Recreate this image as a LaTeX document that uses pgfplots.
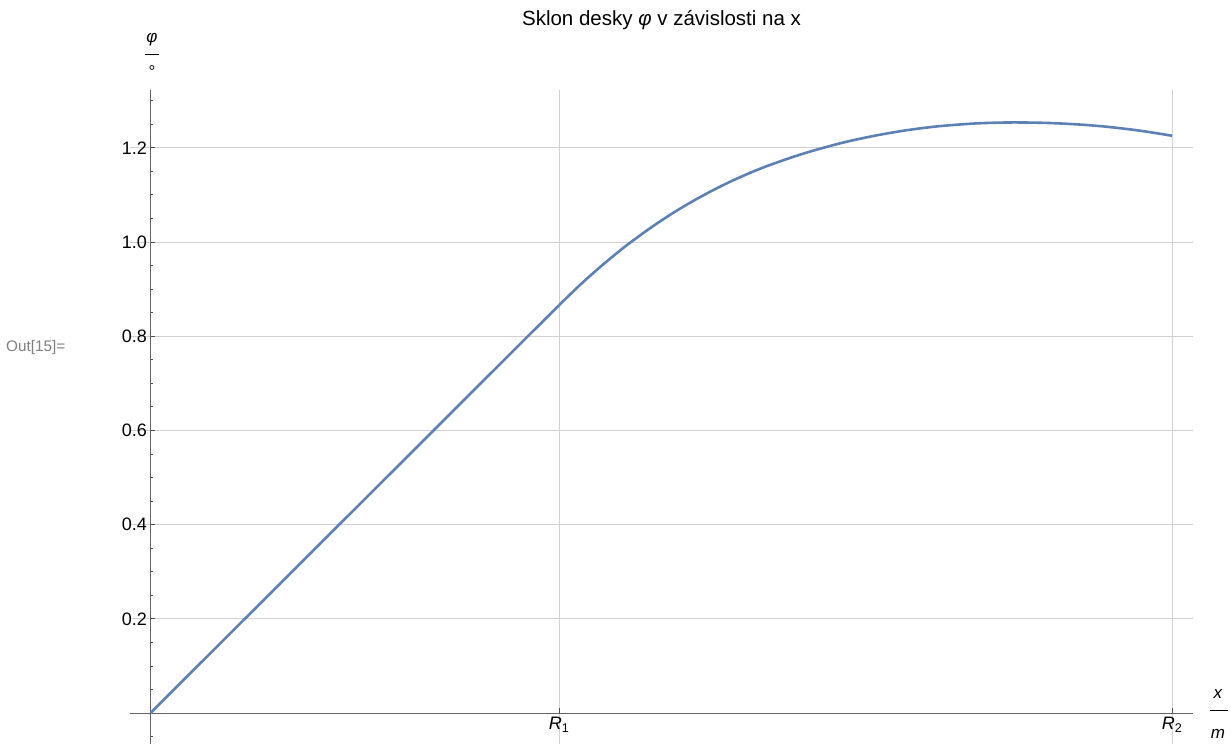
\documentclass[border=0pt]{standalone}
\usepackage{pgfplots}
\pgfplotsset{compat=1.18}
\usepackage{fontspec}
\setmainfont{Liberation Sans}
\definecolor{curve}{RGB}{94,129,181}
\definecolor{gridc}{RGB}{208,208,208}
\definecolor{axc}{RGB}{100,100,100}
\begin{document}
\begin{tikzpicture}[x=1pt,y=1pt]
\useasboundingbox (0,0) rectangle (1231,744);
\begin{axis}[
  at={(130pt,0pt)}, anchor=south west,
  scale only axis, width=1063pt, height=654pt,
  xmin=-0.01003, xmax=0.5103,
  ymin=-0.0658, ymax=1.3227,
  axis lines=middle,
  axis line style={-, draw=axc, line width=0.9pt},
  tick align=inside,
  major tick length=5pt, minor tick length=3pt,
  tick style={draw=black!70, line width=0.8pt},
  xtick={0.2,0.5},
  xticklabels={\textit{R}\textsubscript{1},\textit{R}\textsubscript{2}},
  ytick={0.2,0.4,0.6,0.8,1.0,1.2},
  minor ytick={-0.05,0.05,0.1,0.15,0.25,0.3,0.35,0.45,0.5,0.55,0.65,0.7,0.75,0.85,0.9,0.95,1.05,1.1,1.15,1.25,1.3},
  grid=major,
  major grid style={draw=gridc, line width=0.8pt},
  /pgf/number format/.cd, fixed, fixed zerofill, precision=1, assume math mode=true,
  /pgfplots/.cd,
  ticklabel style={font=\fontsize{18}{21}\selectfont},
  yticklabel style={anchor=east},
  xticklabel style={anchor=north, yshift=-1pt},
  clip=false,
]
\addplot[curve, line width=2.6pt] coordinates {(0,0) (0.2,0.866)};
\addplot[curve, line width=2.6pt, smooth, tension=0.5] table {
x y
0.2000 0.8660
0.2100 0.9078
0.2200 0.9466
0.2300 0.9825
0.2355 1.0009
0.2450 1.0307
0.2550 1.0595
0.2640 1.0831
0.2750 1.1092
0.2850 1.1305
0.2950 1.1496
0.3032 1.1635
0.3150 1.1813
0.3250 1.1947
0.3350 1.2066
0.3424 1.2145
0.3550 1.2261
0.3700 1.2372
0.3850 1.2454
0.4011 1.2510
0.4125 1.2531
0.4241 1.2538
0.4400 1.2526
0.4564 1.2489
0.4700 1.2438
0.4850 1.2359
0.5000 1.2256
};
\end{axis}
\node[font=\fontsize{20.5}{24}\selectfont] at (661.5,724) {Sklon desky \textit{φ} v závislosti na x};
\node[font=\fontsize{15.3}{18}\selectfont, text=black!50, anchor=west, inner sep=0pt] at (6,396) {Out[15]=};
\node[font=\fontsize{17}{20}\selectfont, inner sep=0pt] at (152,704) {\textit{φ}};
\draw[black, line width=1pt] (145,689) -- (159,689);
\node[font=\fontsize{17}{20}\selectfont, inner sep=0pt] at (152,672) {°};
\node[font=\fontsize{17}{20}\selectfont, inner sep=0pt] at (1218,50) {\textit{x}};
\draw[black, line width=1pt] (1210,33) -- (1228,33);
\node[font=\fontsize{17}{20}\selectfont, inner sep=0pt] at (1218,10) {\textit{m}};
\end{tikzpicture}
\end{document}
